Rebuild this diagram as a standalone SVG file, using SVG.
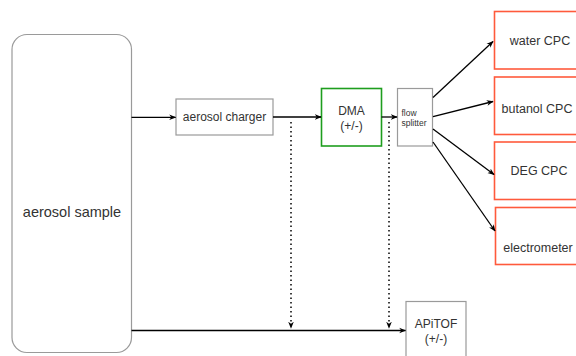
<svg xmlns="http://www.w3.org/2000/svg" width="576" height="356" viewBox="0 0 576 356">
<style>
text{font-family:"Liberation Sans",Arial,sans-serif;fill:#333;text-anchor:middle;dominant-baseline:central}
.g{fill:#fff;stroke:#9a9a9a;stroke-width:1.2}
.dma{fill:#fff;stroke:#1e9e1e;stroke-width:1.6}
.red{fill:#fff;stroke:#ff5a3c;stroke-width:1.6}
.c{fill:none;stroke:#000;stroke-width:1.3}
.d{fill:none;stroke:#000;stroke-width:1.5;stroke-dasharray:1.5 3}
</style>
<defs>
<marker id="ah" viewBox="0 0 10 10" refX="9" refY="5" markerWidth="7" markerHeight="7" markerUnits="userSpaceOnUse" orient="auto">
<path d="M0,1 L10,5 L0,9 L3,5 Z" fill="#000"/>
</marker>
</defs>
<g id="sample"><rect class="g" x="12" y="34.5" width="119.5" height="318" rx="15"/><text x="72" y="211.5" style="font-size:14.5px">aerosol sample</text></g>
<g id="charger"><rect class="g" x="176" y="99" width="97" height="36"/><text x="224.5" y="117" style="font-size:12px">aerosol charger</text></g>
<g id="dma"><rect class="dma" x="321.5" y="88.5" width="60" height="57.5"/><text x="351.5" y="111" style="font-size:12px">DMA</text><text x="351.5" y="125.5" style="font-size:12px">(+/-)</text></g>
<g id="splitter"><rect class="g" x="397.5" y="88.5" width="35" height="57.5"/><text x="401.5" y="112.5" style="font-size:8.5px;text-anchor:start">flow</text><text x="401.5" y="123" style="font-size:8.5px;text-anchor:start">splitter</text></g>
<g id="water"><rect class="red" x="494.5" y="11.5" width="90" height="57.5"/><text x="540" y="41" style="font-size:12.5px">water CPC</text></g>
<g id="butanol"><rect class="red" x="494.5" y="77" width="90" height="57.5"/><text x="537" y="109" style="font-size:12.5px">butanol CPC</text></g>
<g id="deg"><rect class="red" x="494.5" y="142" width="90" height="57.5"/><text x="539" y="170.5" style="font-size:12.5px">DEG CPC</text></g>
<g id="electrometer"><rect class="red" x="495.5" y="207.5" width="90" height="57"/><text x="538" y="247.5" style="font-size:12.5px">electrometer</text></g>
<g id="apitof"><rect class="g" x="406" y="301.5" width="60" height="60"/><text x="436" y="324" style="font-size:12px">APiTOF</text><text x="436" y="338.5" style="font-size:12px">(+/-)</text></g>
<g id="connectors">
<line class="c" x1="131.5" y1="117.3" x2="175.5" y2="117.3" marker-end="url(#ah)"/>
<line class="c" x1="273" y1="117" x2="321" y2="117" marker-end="url(#ah)"/>
<line class="c" x1="381.5" y1="117" x2="397" y2="117" marker-end="url(#ah)"/>
<line class="c" x1="131.5" y1="330.5" x2="405.5" y2="330.5" marker-end="url(#ah)"/>
<line class="d" x1="291" y1="122" x2="291" y2="328" marker-end="url(#ah)"/>
<line class="d" x1="389" y1="122" x2="389" y2="328" marker-end="url(#ah)"/>
<line class="c" x1="433" y1="97.5" x2="493" y2="41.5" marker-end="url(#ah)"/>
<line class="c" x1="433" y1="116.7" x2="493" y2="101.5" marker-end="url(#ah)"/>
<line class="c" x1="433" y1="129" x2="494" y2="174.5" marker-end="url(#ah)"/>
<line class="c" x1="433" y1="142" x2="495" y2="231" marker-end="url(#ah)"/>
</g>
</svg>
